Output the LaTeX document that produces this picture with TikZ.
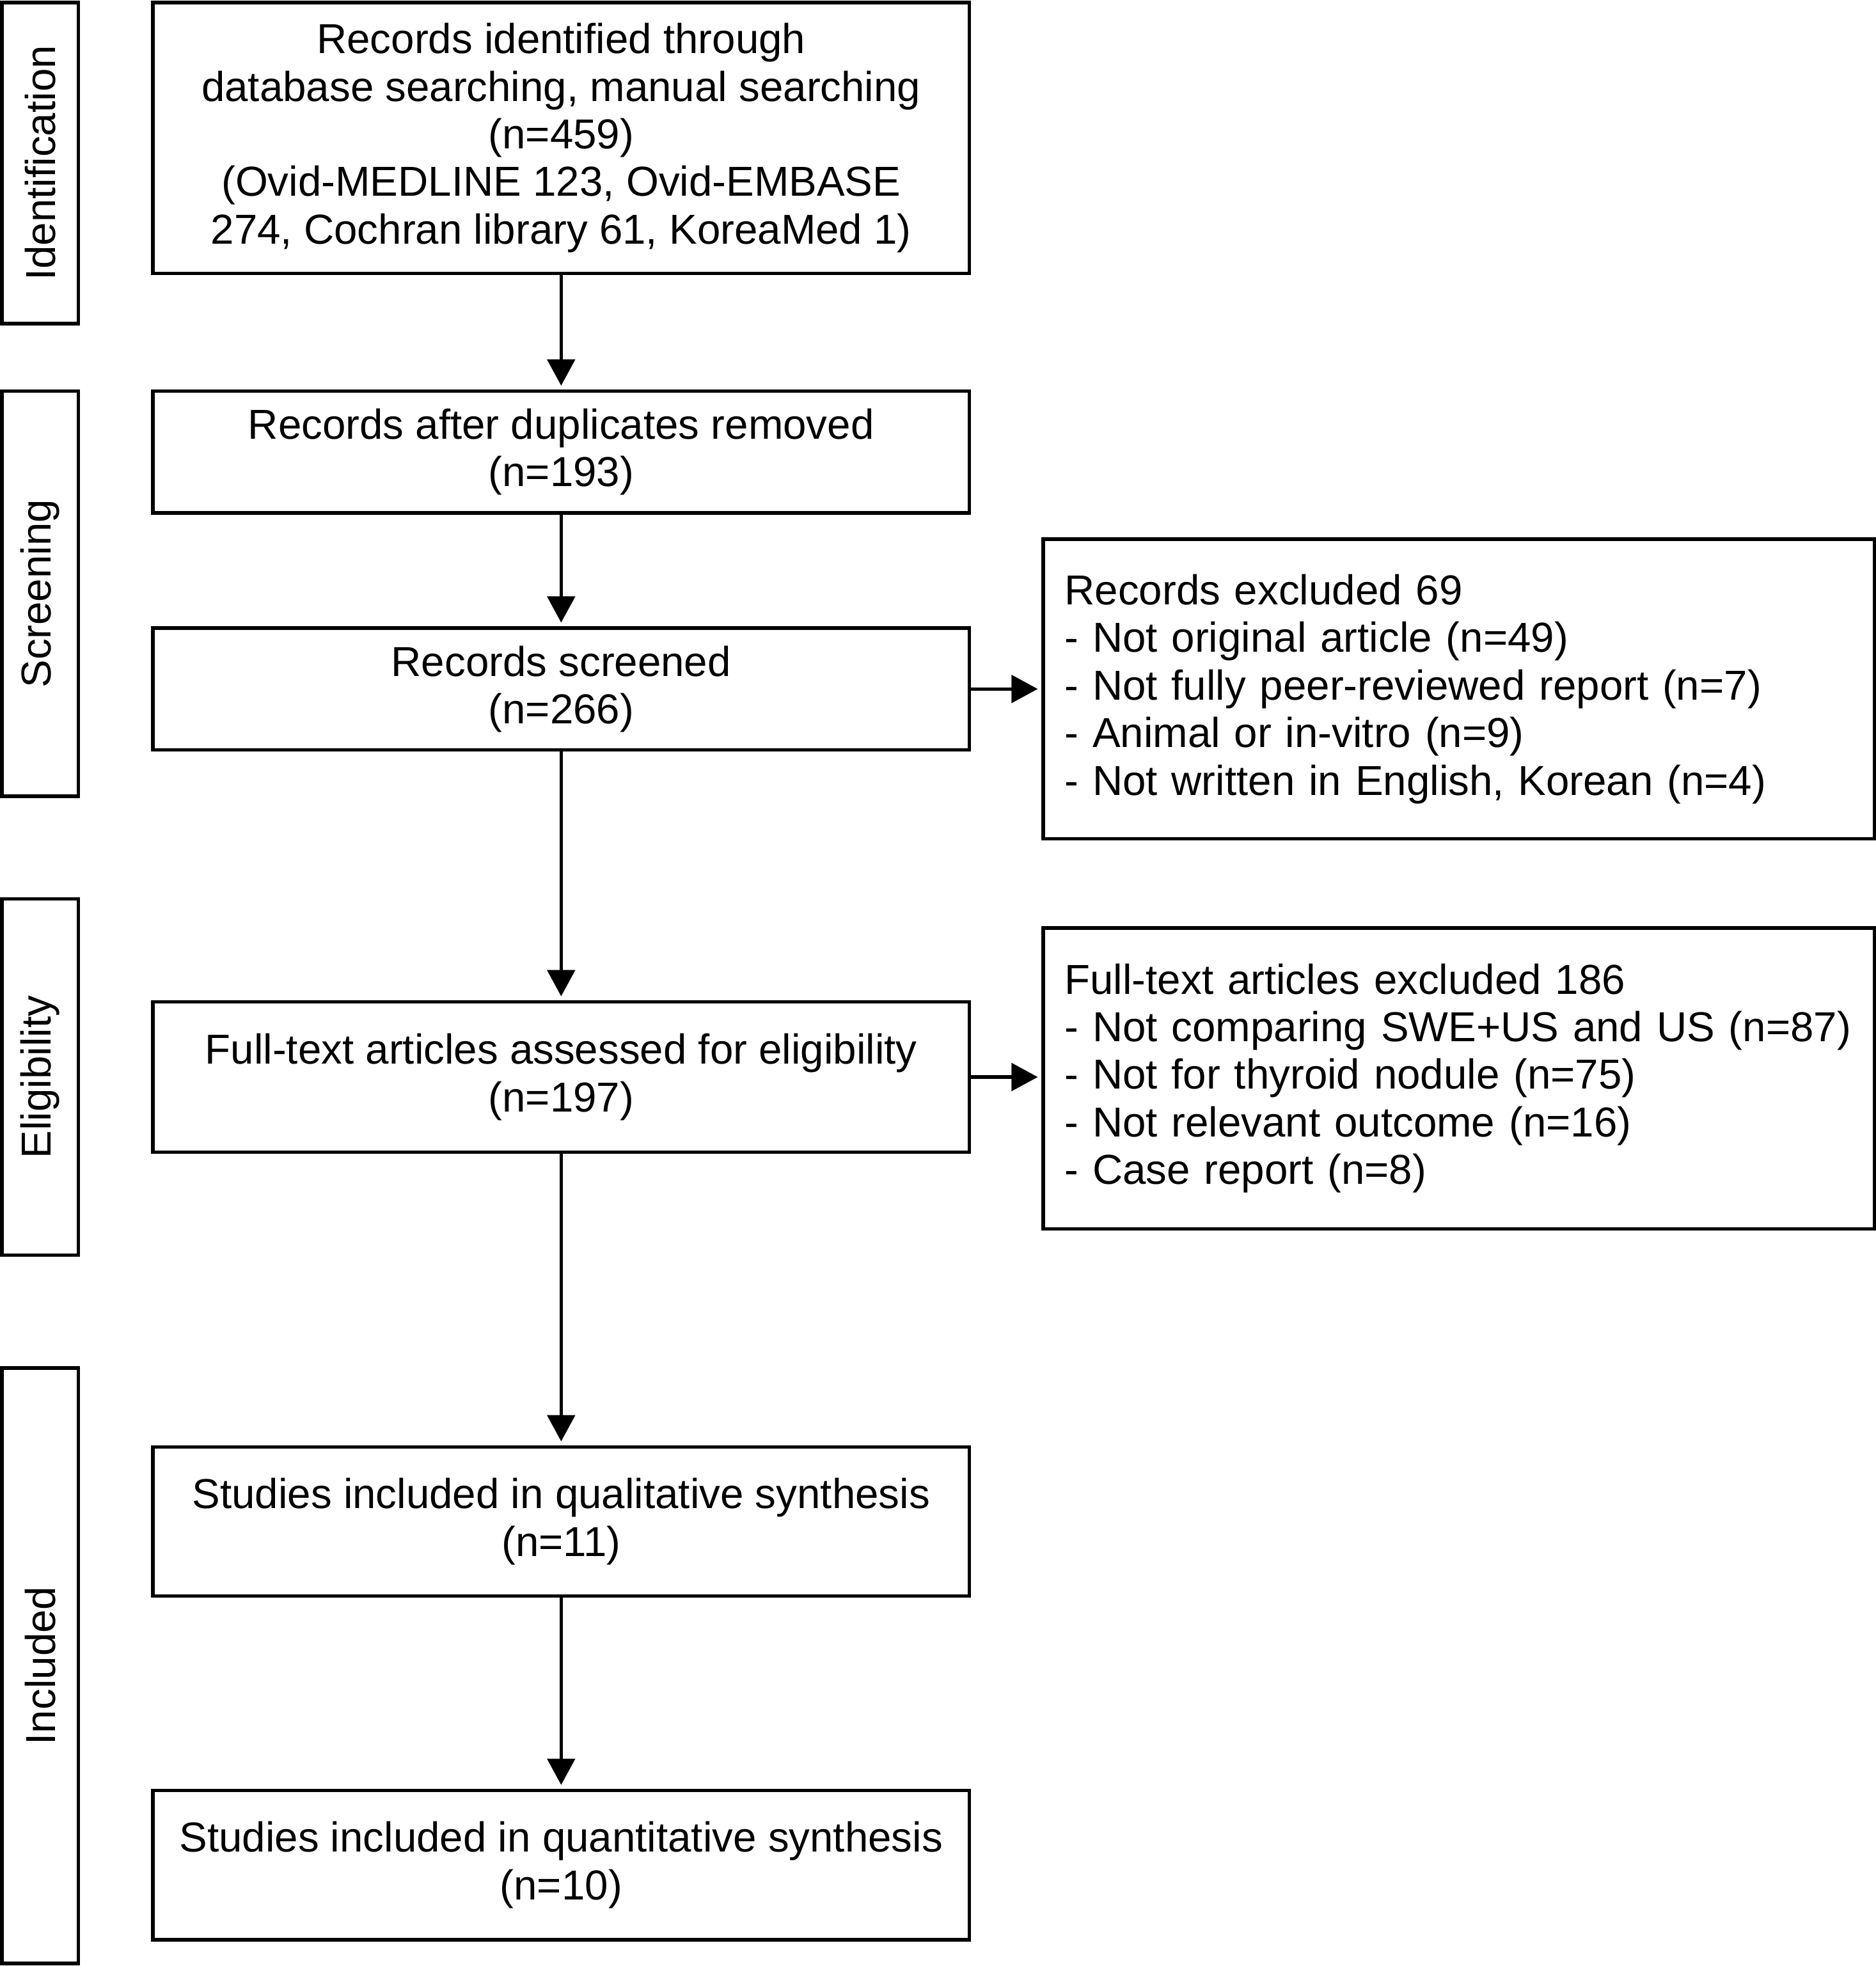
\documentclass[tikz,border=0pt]{standalone}
\usepackage{fontspec}
\setmainfont{Liberation Sans}
\usetikzlibrary{arrows.meta,positioning}

\begin{document}
\begin{tikzpicture}[
font=\fontsize{19pt}{21.6pt}\selectfont,
box/.style={rectangle,draw,line width=1.6pt,align=center,minimum width=13.02cm,inner sep=0pt},
exbox/.style={rectangle,draw,line width=1.6pt,align=left,text width=12.58cm,inner xsep=0.34cm,minimum width=13.26cm},
phase/.style={rectangle,draw,line width=1.6pt,rotate=90,minimum height=1.22cm,inner sep=0pt},
arr/.style={-{Triangle[length=4.2mm,width=4.4mm]},line width=1.6pt,shorten >=0.6mm}
]
\useasboundingbox (0,0) rectangle (29.92,-31.36);

% phase labels
\node[phase,minimum width=5.12cm] (pid) at (0.64,-2.6) {Identification};
\node[phase,minimum width=6.46cm] (psc) at (0.64,-9.47) {Screening};
\node[phase,minimum width=5.68cm] (pel) at (0.64,-17.18) {Eligibility};
\node[phase,minimum width=9.5cm] (pin) at (0.64,-26.57) {Included};

% main column
\node[box,minimum height=4.32cm] (ident) at (8.95,-2.2) {Records identified through\\database searching, manual searching\\(n=459)\\(Ovid-MEDLINE 123, Ovid-EMBASE\\274, Cochran library 61, KoreaMed 1)};
\node[box,minimum height=1.94cm] (dedup) at (8.95,-7.21) {Records after duplicates removed\\(n=193)};
\node[box,minimum height=1.94cm] (screen) at (8.95,-10.99) {Records screened\\(n=266)};
\node[box,minimum height=2.4cm] (elig) at (8.95,-17.18) {Full-text articles assessed for eligibility\\(n=197)};
\node[box,minimum height=2.38cm] (qual) at (8.95,-24.27) {Studies included in qualitative synthesis\\(n=11)};
\node[box,minimum height=2.38cm] (quant) at (8.95,-29.75) {Studies included in quantitative synthesis\\(n=10)};

% exclusions
\node[exbox,minimum height=4.78cm] (excl1) at (23.27,-10.99) {Records excluded 69\\- Not original article (n=49)\\- Not fully peer-reviewed report (n=7)\\- Animal or in-vitro (n=9)\\- Not written in English, Korean (n=4)};
\node[exbox,minimum height=4.8cm] (excl2) at (23.27,-17.2) {Full-text articles excluded 186\\- Not comparing SWE+US and US (n=87)\\- Not for thyroid nodule (n=75)\\- Not relevant outcome (n=16)\\- Case report (n=8)};

\draw[arr] (ident) -- (dedup);
\draw[arr] (dedup) -- (screen);
\draw[arr] (screen) -- (elig);
\draw[arr] (elig) -- (qual);
\draw[arr] (qual) -- (quant);
\draw[arr] (screen.east) -- (screen.east -| excl1.west);
\draw[arr] (elig.east) -- (elig.east -| excl2.west);
\end{tikzpicture}
\end{document}
